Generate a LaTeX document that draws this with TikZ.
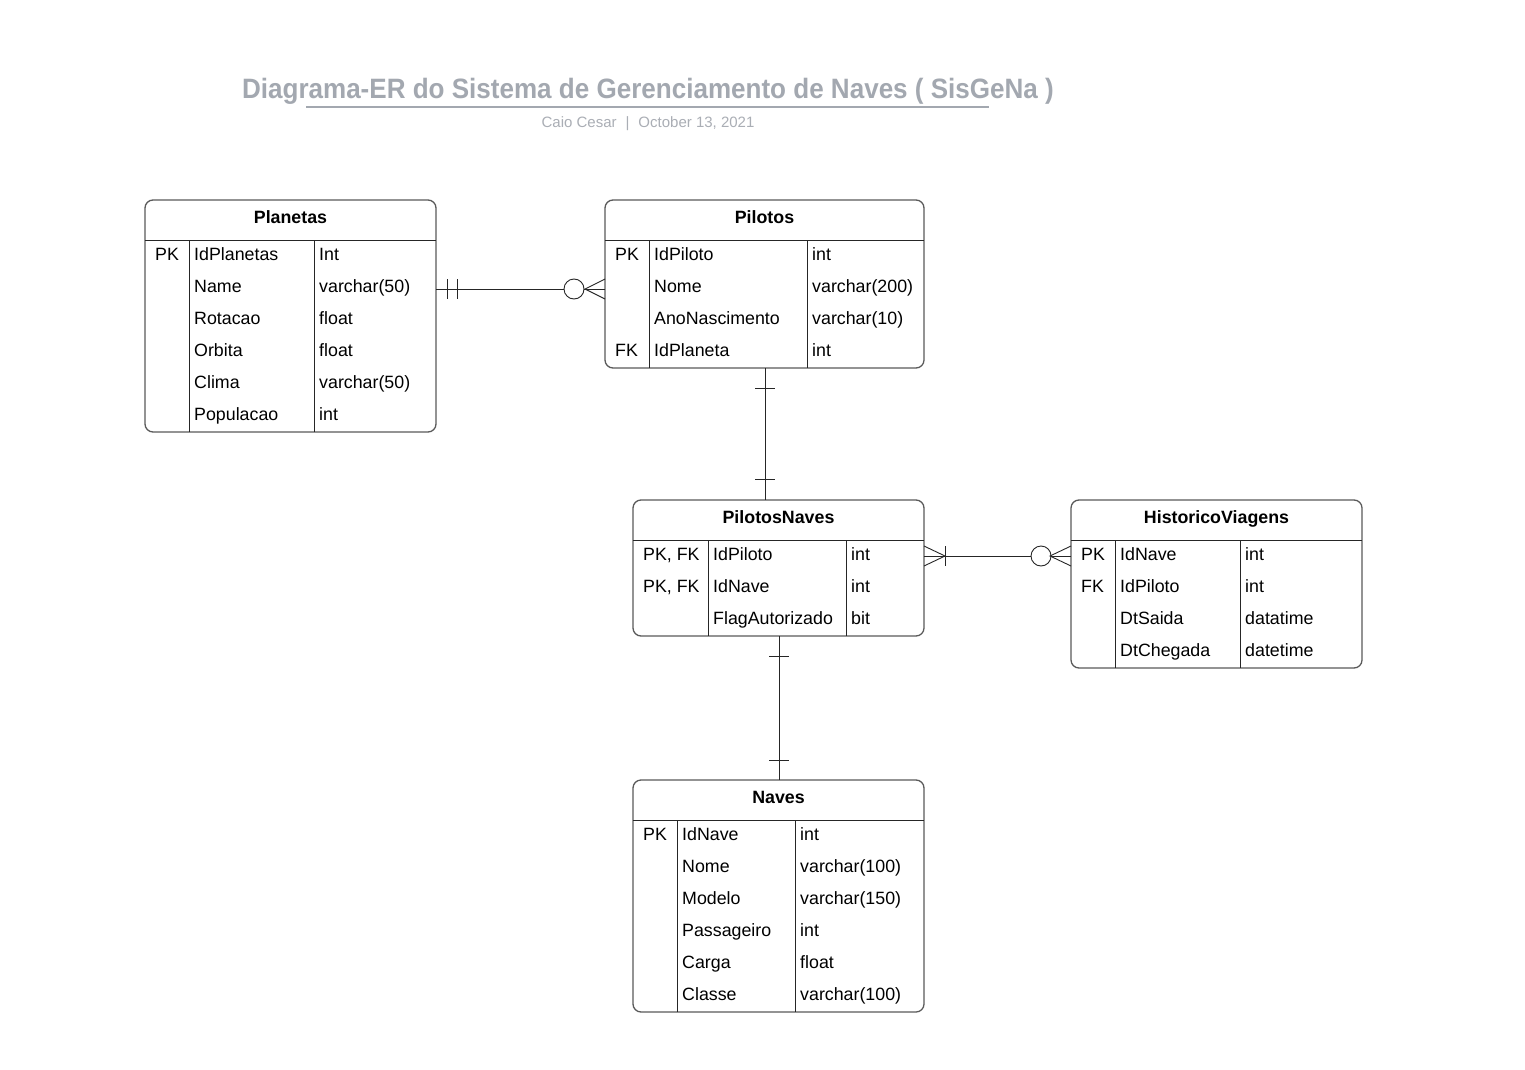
\documentclass[tikz,border=0pt]{standalone}
\usepackage{fontspec}
\setmainfont{Liberation Sans}
\usetikzlibrary{calc}
\definecolor{titlegrey}{RGB}{163,168,176}
\definecolor{subgrey}{RGB}{170,174,181}
\definecolor{framegrey}{RGB}{90,90,90}
\tikzset{
  entity/.style={
    draw=framegrey,
    line width=1.3pt,
    rounded corners=8pt,
    inner sep=0pt,
    outer sep=0pt,
  },
  cell/.style={font=\fontsize{17.8}{20}\selectfont, inner sep=0pt, anchor=base west},
  head/.style={font=\bfseries\fontsize{17.8}{20}\selectfont, inner sep=0pt, anchor=base},
  grid/.style={line width=0.8pt, draw=black!85},
  rel/.style={line width=0.9pt, draw=black!85},
}

% name, x, y, width, rows, first divider, second divider, header, rows
\newcommand{\erentity}[9]{%
  \pgfmathsetmacro{\entheight}{40+32*#5}
  \node[entity, minimum width=#4pt, minimum height=\entheight pt, anchor=north west] (#1) at (#2,#3) {};
  \node[head] at ([yshift=-23pt]#1.north) {#8};
  \draw[grid] ([yshift=-40pt]#1.north west) -- ([yshift=-40pt]#1.north east);
  \draw[grid] ([shift={(#6pt,-40pt)}]#1.north west) -- ([xshift=#6pt]#1.south west);
  \draw[grid] ([shift={(#7pt,-40pt)}]#1.north west) -- ([xshift=#7pt]#1.south west);
  \foreach \ekey/\efield/\etype [count=\erow from 0] in {#9} {
    \node[cell] at ([shift={({10pt},{-60pt-32pt*\erow})}]#1.north west) {\ekey};
    \node[cell] at ([shift={({#6pt+5pt},{-60pt-32pt*\erow})}]#1.north west) {\efield};
    \node[cell] at ([shift={({#7pt+5pt},{-60pt-32pt*\erow})}]#1.north west) {\etype};
  }
}

\begin{document}
\begin{tikzpicture}[x=1pt, y=-1pt]
  \useasboundingbox[fill=white] (0,0) rectangle (1525,1070);

  % Title
  \node[font=\bfseries\fontsize{28}{32}\selectfont, text=titlegrey, anchor=base, inner sep=0pt] (title) at (648,99)
    {\scalebox{0.93}[1]{Diagrama-ER do Sistema de Gerenciamento de Naves ( SisGeNa )}};
  \draw[titlegrey, line width=1.8pt] (306,107) -- (989,107);
  \node[font=\fontsize{15}{18}\selectfont, text=subgrey, anchor=base, inner sep=0pt] (subtitle) at (648,128)
    {Caio Cesar\hspace{9pt}|\hspace{9pt}October 13, 2021};

  % Tables
  \erentity{planetas}{145}{200}{291}{6}{44}{169}{Planetas}
    {PK/IdPlanetas/Int, /Name/varchar(50), /Rotacao/float, /Orbita/float, /Clima/varchar(50), /Populacao/int}
  \erentity{pilotos}{605}{200}{319}{4}{44}{202}{Pilotos}
    {PK/IdPiloto/int, /Nome/varchar(200), /AnoNascimento/varchar(10), FK/IdPlaneta/int}
  \erentity{pilotosnaves}{633}{500}{291}{3}{75}{213}{PilotosNaves}
    {{PK, FK}/IdPiloto/int, {PK, FK}/IdNave/int, /FlagAutorizado/bit}
  \erentity{historico}{1071}{500}{291}{4}{44}{169}{HistoricoViagens}
    {PK/IdNave/int, FK/IdPiloto/int, /DtSaida/datatime, /DtChegada/datetime}
  \erentity{naves}{633}{780}{291}{6}{44}{162}{Naves}
    {PK/IdNave/int, /Nome/varchar(100), /Modelo/varchar(150), /Passageiro/int, /Carga/float, /Classe/varchar(100)}

  % Planetas -- Pilotos
  \coordinate (pl1) at ([yshift=-89pt]planetas.north east);
  \coordinate (pi1) at ([yshift=-89pt]pilotos.north west);
  \draw[rel] (pl1) -- (pi1);
  \draw[rel] ([shift={(11pt,10pt)}]pl1) -- ([shift={(11pt,-10pt)}]pl1);
  \draw[rel] ([shift={(21pt,10pt)}]pl1) -- ([shift={(21pt,-10pt)}]pl1);
  \draw[rel, fill=white] ([xshift=-31pt]pi1) circle (10pt);
  \draw[rel] ([yshift=10pt]pi1) -- ([xshift=-20pt]pi1) -- ([yshift=-10pt]pi1);

  % Pilotos -- PilotosNaves
  \coordinate (pi2) at ([xshift=160pt]pilotos.south west);
  \coordinate (pn1) at ([xshift=132pt]pilotosnaves.north west);
  \draw[rel] (pi2) -- (pn1);
  \draw[rel] ([shift={(-10pt,-20pt)}]pi2) -- ([shift={(10pt,-20pt)}]pi2);
  \draw[rel] ([shift={(-10pt,21pt)}]pn1) -- ([shift={(10pt,21pt)}]pn1);

  % PilotosNaves -- HistoricoViagens
  \coordinate (pn2) at ([yshift=-56pt]pilotosnaves.north east);
  \coordinate (hv1) at ([yshift=-56pt]historico.north west);
  \draw[rel] (pn2) -- (hv1);
  \draw[rel] ([yshift=10pt]pn2) -- ([xshift=21pt]pn2) -- ([yshift=-10pt]pn2);
  \draw[rel] ([shift={(21pt,10pt)}]pn2) -- ([shift={(21pt,-10pt)}]pn2);
  \draw[rel, fill=white] ([xshift=-30pt]hv1) circle (10pt);
  \draw[rel] ([yshift=10pt]hv1) -- ([xshift=-21pt]hv1) -- ([yshift=-10pt]hv1);

  % PilotosNaves -- Naves
  \coordinate (pn3) at ([xshift=146pt]pilotosnaves.south west);
  \coordinate (nv1) at ([xshift=146pt]naves.north west);
  \draw[rel] (pn3) -- (nv1);
  \draw[rel] ([shift={(-10pt,-20pt)}]pn3) -- ([shift={(10pt,-20pt)}]pn3);
  \draw[rel] ([shift={(-10pt,20pt)}]nv1) -- ([shift={(10pt,20pt)}]nv1);
\end{tikzpicture}
\end{document}
